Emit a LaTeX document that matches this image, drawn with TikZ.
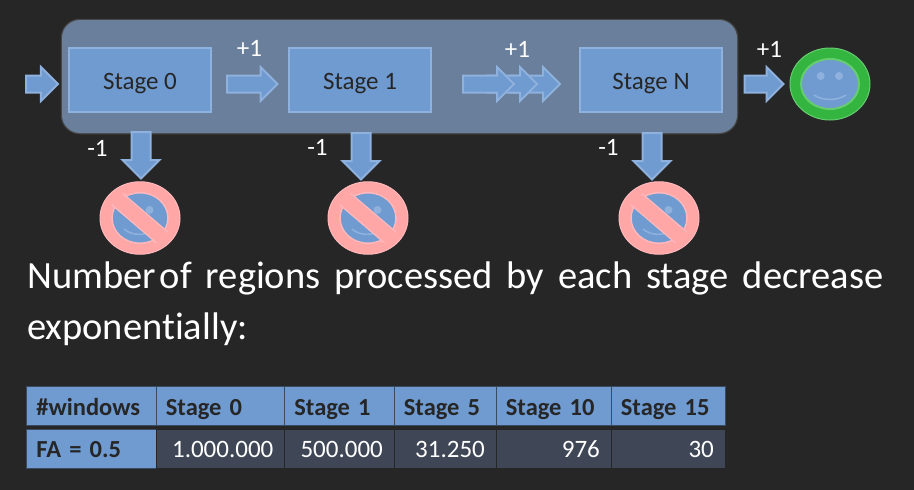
\documentclass[tikz,border=0pt]{standalone}
\usepackage{fontspec}
\setmainfont[Ligatures=NoCommon]{Carlito}
\usetikzlibrary{shapes.geometric,shapes.arrows}
\definecolor{bgc}{HTML}{262626}
\definecolor{panelc}{HTML}{697F9B}
\definecolor{bluec}{HTML}{6F9BD1}
\definecolor{lblue}{HTML}{8FB1DD}
\definecolor{datac}{HTML}{3F4756}
\definecolor{gridc}{HTML}{3A4A60}
\definecolor{redc}{HTML}{FFA6A6}
\definecolor{lred}{HTML}{FFB8BC}
\definecolor{greenc}{HTML}{33B540}
\definecolor{lgreen}{HTML}{66CC70}
\tikzset{
  x=1pt,y=-1pt,
  stagebox/.style={draw=lblue,line width=2pt,fill=bluec,minimum width=142pt,minimum height=64pt,inner sep=0pt,text=bgc,font=\fontsize{25}{28}\selectfont},
  harrow/.style={single arrow,draw=lblue,line width=2pt,fill=bluec,inner xsep=0pt,inner ysep=7.5pt,single arrow head extend=8.5pt,single arrow tip angle=90,anchor=tail},
  varrow/.style={single arrow,draw=lblue,line width=2pt,fill=bluec,inner xsep=0pt,inner ysep=8.5pt,single arrow head extend=9pt,single arrow tip angle=90,anchor=tail,rotate=-90},
  numlabel/.style={text=white,inner sep=0pt,font=\fontsize{25}{28}\selectfont},
  facec/.style={ellipse,fill=bluec,inner sep=0pt},
  headcell/.style={anchor=north west,fill=bluec,draw=gridc,line width=.8pt,inner ysep=0pt,inner xsep=10pt,minimum height=39pt,text=bgc,font=\fontsize{24.5}{28}\selectfont\bfseries,align=left},
  datacell/.style={anchor=north west,fill=datac,draw=bgc,line width=.8pt,inner ysep=0pt,inner xsep=10pt,minimum height=39pt,text=white,font=\fontsize{25}{28}\selectfont,align=right},
  firstcell/.style={headcell,minimum height=39pt},
  bigtext/.style={anchor=north west,text=white,inner sep=0pt,text width=856pt,font=\fontsize{38.5}{50.5}\selectfont},
  facedetail/.style={lblue,line width=1.6pt}
}
\newcommand{\forbidface}[2]{%
  \node[ellipse,fill=redc,draw=lred,line width=1pt,inner sep=0pt,minimum width=80pt,minimum height=72.5pt] (#1) at (#2,218) {};
  \node[facec,draw=lred,line width=1.5pt,minimum width=56pt,minimum height=50.5pt] (#1f) at (#2,218) {};
  \fill[lblue] (#2+9.5,210) circle (4);
  \draw[facedetail] (#2-16,229) .. controls (#2-8,236) and (#2+5,236) .. (#2+13,230);
  \begin{scope}
    \clip (#2,218) ellipse (32 and 29);
    \draw[lred,line width=17pt] (#2-31,192) -- (#2+31,245);
    \draw[redc,line width=14pt] (#2-31,192) -- (#2+31,245);
  \end{scope}
}
\newcommand{\tcell}[5]{\node[#1,minimum width=#4pt,text width=#4pt-20pt] (#2) at (#3) {\raisebox{-9.5pt}[0pt][0pt]{#5}};}
\begin{document}
\begin{tikzpicture}
\useasboundingbox (0,0) rectangle (914,490);
\fill[bgc] (0,0) rectangle (914,490);
% panel
\draw[white,opacity=.15,line width=2.5pt,rounded corners=18pt] (62,20) rectangle (737,133);
\fill[panelc,rounded corners=18pt] (62,20) rectangle (737,133);
% stages
\node[stagebox] (s0) at (140,80) {\raisebox{-9pt}[0pt][0pt]{Stage 0}};
\node[stagebox] (s1) at (360,80) {\raisebox{-9pt}[0pt][0pt]{Stage 1}};
\node[stagebox] (sn) at (651,80) {\raisebox{-9pt}[0pt][0pt]{Stage N}};
% horizontal arrows
\node[harrow,minimum height=32pt] (ain) at (25,84) {};
\node[harrow,minimum height=50.5pt] (a01) at (226,84) {};
\node[harrow,minimum height=50pt] (a1c) at (509,84) {};
\node[harrow,minimum height=50pt] (a1b) at (486,84) {};
\node[harrow,minimum height=51pt] (a1a) at (462,84) {};
\node[harrow,minimum height=39pt] (aout) at (743.5,84) {};
% down arrows
\node[varrow,minimum height=46.5pt] (d0) at (141,131) {};
\node[varrow,minimum height=46.5pt] (d1) at (361,132) {};
\node[varrow,minimum height=46.5pt] (dn) at (652,132) {};
% labels
\node[numlabel] (p0) at (249.5,48.5) {+1};
\node[numlabel] (p1) at (517.5,49) {+1};
\node[numlabel] (p2) at (769.5,49) {+1};
\node[numlabel] (m0) at (97.5,148) {-1};
\node[numlabel] (m1) at (317.5,147) {-1};
\node[numlabel] (mn) at (608.5,147) {-1};
% forbidden faces
\forbidface{f0}{140}
\forbidface{f1}{368}
\forbidface{fn}{659}
% happy face
\node[ellipse,fill=greenc,draw=lgreen,line width=1pt,inner sep=0pt,minimum width=80pt,minimum height=72pt] (ok) at (830,84) {};
\node[facec,draw=lgreen,line width=2pt,minimum width=58pt,minimum height=50pt] (okf) at (830,84) {};
\fill[lblue] (820.7,76) circle (4);
\fill[lblue] (839,76) circle (4);
\draw[facedetail] (814,95) .. controls (823,101) and (837,101) .. (846,95);
% text
\node[bigtext] (body) at (27,262) {\hbox to 856pt{Number\hspace{4pt}of\hfill regions\hfill processed\hfill by\hfill each\hfill stage\hfill decrease}\\exponentially:};
% table
\tcell{headcell}{h0}{26,386}{129.5}{\#windows}
\tcell{headcell}{h1}{155.5,386}{128.5}{Stage 0}
\tcell{headcell}{h2}{284,386}{109.5}{Stage 1}
\tcell{headcell}{h3}{393.5,386}{102}{Stage 5}
\tcell{headcell}{h4}{495.5,386}{115}{Stage 10}
\tcell{headcell}{h5}{610.5,386}{114}{Stage 15}
\tcell{firstcell}{r0}{26,428.5}{129.5}{FA = 0.5}
\tcell{datacell}{r1}{155.5,428.5}{128.5}{1.000.000\kern1pt}
\tcell{datacell}{r2}{284,428.5}{109.5}{500.000\kern1pt}
\tcell{datacell}{r3}{393.5,428.5}{102}{31.250\kern1pt}
\tcell{datacell}{r4}{495.5,428.5}{115}{976\kern1pt}
\tcell{datacell}{r5}{610.5,428.5}{114}{30\kern1pt}
\end{tikzpicture}
\end{document}
